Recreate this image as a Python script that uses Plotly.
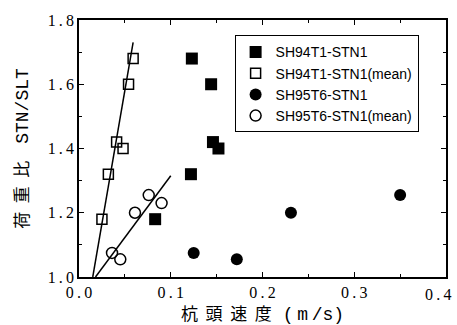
import plotly.graph_objects as go

# SH94T1-STN1 (filled squares)
sq_x = [0.123, 0.144, 0.146, 0.152, 0.122, 0.083]
sq_y = [1.68, 1.60, 1.42, 1.40, 1.32, 1.18]
# SH94T1-STN1(mean) (open squares)
sqm_x = [0.059, 0.054, 0.041, 0.048, 0.032, 0.025]
sqm_y = [1.68, 1.60, 1.42, 1.40, 1.32, 1.18]
# SH95T6-STN1 (filled circles)
ci_x = [0.125, 0.172, 0.231, 0.350]
ci_y = [1.075, 1.055, 1.20, 1.255]
# SH95T6-STN1(mean) (open circles)
cim_x = [0.036, 0.045, 0.061, 0.076, 0.090]
cim_y = [1.075, 1.055, 1.20, 1.255, 1.23]
# fitted lines
fit1_x = [0.015, 0.059]
fit1_y = [1.00, 1.73]
fit2_x = [0.018, 0.100]
fit2_y = [1.00, 1.315]

TS = "\u2009"
x_ticks = [0.0, 0.1, 0.2, 0.3, 0.4]
x_labels = ["0.0", "0.1", "0.2", "0.3", "0.4"]
y_ticks = [1.0, 1.2, 1.4, 1.6, 1.8]
y_labels = ["1.0", "1.2", "1.4", "1.6", "1.8"]


def spaced(s):
    return s.replace(".", TS + "." + TS)


x_ticktext = [spaced(s) for s in x_labels[:-1]] + [""]
y_ticktext = [spaced(s) for s in y_labels]

NB2 = "\u00a0\u00a0"
MONO = "<span style='font-family:Liberation Mono;font-size:18px'>{}</span>"
x_title = NB2.join(["杭", "頭", "速", "度"]) + NB2 + TS + MONO.format("(" + TS + "m" + TS + "/s)") + "\u3000" + NB2
y_title = "\u2002".join(["荷", "重", "比"]) + "\u2002\u2002" + MONO.format("STN/SLT") + "\u2002"

TICKFONT = dict(family="Liberation Serif", size=16, color="black")

fig = go.Figure()
fig.add_trace(go.Scatter(x=fit1_x, y=fit1_y, mode="lines", line=dict(color="black", width=1.5), showlegend=False))
fig.add_trace(go.Scatter(x=fit2_x, y=fit2_y, mode="lines", line=dict(color="black", width=1.5), showlegend=False))
fig.add_trace(go.Scatter(x=sq_x, y=sq_y, mode="markers", name="SH94T1-STN1",
                         marker=dict(symbol="square", size=12, color="black", line=dict(width=0))))
fig.add_trace(go.Scatter(x=sqm_x, y=sqm_y, mode="markers", name="SH94T1-STN1(mean)",
                         marker=dict(symbol="square-open", size=10, color="black", line=dict(width=1.5))))
fig.add_trace(go.Scatter(x=ci_x, y=ci_y, mode="markers", name="SH95T6-STN1",
                         marker=dict(symbol="circle", size=12, color="black", line=dict(width=0))))
fig.add_trace(go.Scatter(x=cim_x, y=cim_y, mode="markers", name="SH95T6-STN1(mean)",
                         marker=dict(symbol="circle-open", size=11, color="black", line=dict(width=1.5))))

axis_common = dict(showgrid=False, zeroline=False, showline=True, linecolor="black", linewidth=1.5,
                   mirror="ticks", ticks="inside", ticklen=5, tickcolor="black", tickwidth=1,
                   automargin=False, tickfont=TICKFONT)
fig.update_xaxes(range=[0, 0.4], tickvals=x_ticks, ticktext=x_ticktext,
                 minor=dict(ticks="inside", ticklen=3, dtick=0.05, tickcolor="black"),
                 title=dict(text=x_title, font=dict(family="Noto Sans CJK JP", size=17, color="black"), standoff=9),
                 **axis_common)
fig.update_yaxes(range=[1.0, 1.8], tickvals=y_ticks, ticktext=y_ticktext,
                 minor=dict(ticks="inside", ticklen=3, dtick=0.1, tickcolor="black"),
                 title=dict(text=y_title, font=dict(family="Noto Sans CJK JP", size=17, color="black"), standoff=15),
                 **axis_common)
# last x tick label, nudged left so it stays inside the page as in the reference
fig.add_annotation(x=x_ticks[-1], y=0, xref="x", yref="paper", text=spaced(x_labels[-1]),
                   showarrow=False, xanchor="center", yanchor="top", xshift=-8, yshift=-7,
                   font=TICKFONT)
fig.update_layout(width=457, height=325, margin=dict(l=79, r=11, t=20, b=48),
                  paper_bgcolor="white", plot_bgcolor="white",
                  legend=dict(x=0.424, y=0.94, xanchor="left", yanchor="top",
                              bordercolor="black", borderwidth=1, bgcolor="white",
                              font=dict(family="Liberation Sans", size=14, color="black"),
                              tracegroupgap=0, itemwidth=30))
fig.write_html("out.html")
